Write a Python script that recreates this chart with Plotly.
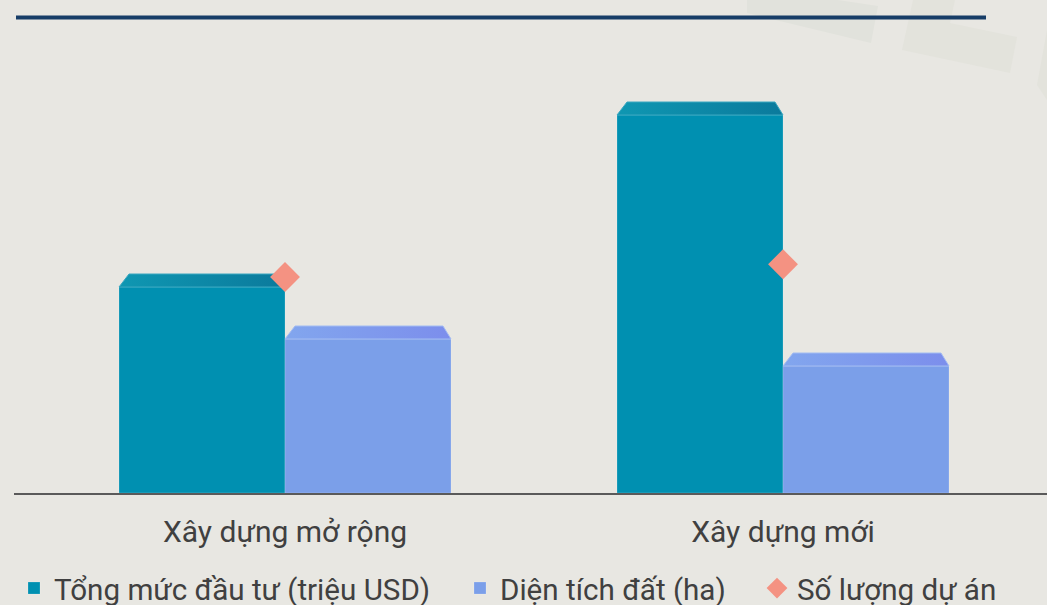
import plotly.graph_objects as go

# ---- data ----
categories = ["Xây dựng mở rộng", "Xây dựng mới"]
tong_muc_dau_tu = [1030, 1890]      # triệu USD
dien_tich_dat = [770, 635]          # ha
so_luong_du_an = [34, 36]           # dự án
series_names = ["Tổng mức đầu tư (triệu USD)", "Diện tích đất (ha)", "Số lượng dự án"]

# ---- style / layout constants ----
W, H = 1047, 605
ML, MR, MT, MB = 14, 0, 40, 112
XR = [-0.5442, 1.5301]
YR = [0, 2265]
Y2R = [0, 71.3]
BAR_W = 1 / 3
BG = "#e8e7e2"
TEAL = "#0090b1"
BLUE = "#7b9fe9"
SALMON = "#f49282"
TXT = "#404040"
FONT = "Roboto"
LEGEND_W = [401, 252, None]

plot_w = W - ML - MR
plot_h = H - MT - MB
px_x = plot_w / (XR[1] - XR[0])
px_y = plot_h / (YR[1] - YR[0])

x_idx = list(range(len(categories)))

fig = go.Figure()

bar_specs = [
    (series_names[0], tong_muc_dau_tu, TEAL, -BAR_W, ["#0f97b2", "#0b7a9c"], "#3aa7c0", LEGEND_W[0]),
    (series_names[1], dien_tich_dat, BLUE, 0.0, ["#82a6ee", "#7c8eec"], "#a3bcf2", LEGEND_W[1]),
]

for name, vals, col, off, grad, edge, lw in bar_specs:
    fig.add_trace(go.Bar(
        x=x_idx, y=vals, name=name, width=BAR_W, offset=off,
        marker=dict(color=col, line=dict(color="rgba(255,255,255,0.18)", width=1)),
        hoverinfo="skip", legendwidth=lw,
    ))

# 3D caps on top of each bar
dxl, dxr = 10 / px_x, 8 / px_x
dy = 13 / px_y
for name, vals, col, off, grad, edge, lw in bar_specs:
    for i, v in zip(x_idx, vals):
        xl = i + off
        xr = xl + BAR_W
        fig.add_trace(go.Scatter(
            x=[xl, xl + dxl, xr - dxr, xr, xl],
            y=[v, v + dy, v + dy, v, v],
            mode="lines", fill="toself",
            fillgradient=dict(type="horizontal", colorscale=[[0, grad[0]], [1, grad[1]]]),
            line=dict(color=edge, width=1),
            showlegend=False, hoverinfo="skip",
        ))

fig.add_trace(go.Scatter(
    x=x_idx, y=so_luong_du_an, name=series_names[2], yaxis="y2",
    mode="markers",
    marker=dict(symbol="diamond", size=23, color=SALMON),
    hoverinfo="skip",
))


def to_plot_paper_x(px):
    return (px - ML) / plot_w


def to_plot_paper_y(py):
    return (H - MB - py) / plot_h


# faint decorative panels (pixel outlines) and navy rule at top
poly_px = [
    [(747, 0), (838, 0), (878, 6), (871, 43), (747, 13)],
    [(913, 0), (955, 0), (950, 23), (1017, 37), (1010, 73), (902, 50)],
    [(1047, 30), (1047, 100), (1037, 85)],
]
poly_cols = ["#e1e2dc", "#e3e3dc", "#e3e3dc"]
shapes = []
for pts, c in zip(poly_px, poly_cols):
    path = "M " + " L ".join(f"{to_plot_paper_x(px):.4f} {to_plot_paper_y(py):.4f}" for px, py in pts) + " Z"
    shapes.append(dict(type="path", xref="paper", yref="paper", layer="below",
                       path=path, fillcolor=c, line=dict(width=0)))
shapes.append(dict(type="line", xref="paper", yref="paper",
                   x0=to_plot_paper_x(16), x1=to_plot_paper_x(986),
                   y0=to_plot_paper_y(17.5), y1=to_plot_paper_y(17.5),
                   line=dict(color="#173d67", width=4)))

fig.update_layout(
    width=W, height=H,
    margin=dict(l=ML, r=MR, t=MT, b=MB, pad=0, autoexpand=False),
    paper_bgcolor=BG, plot_bgcolor=BG,
    font=dict(family=FONT, color=TXT),
    barmode="overlay",
    xaxis=dict(range=XR, tickvals=x_idx, ticktext=categories, showgrid=False,
               zeroline=False, showline=True, linecolor="#5a5a5a", linewidth=2,
               ticks="", tickfont=dict(size=30, color=TXT), ticklabelstandoff=11,
               automargin=False),
    yaxis=dict(range=YR, visible=False, showgrid=False),
    yaxis2=dict(range=Y2R, visible=False, overlaying="y", side="right", showgrid=False),
    shapes=shapes,
    showlegend=True,
    legend=dict(orientation="h", x=0, xanchor="left", xref="paper",
                y=-0.153, yanchor="top", yref="paper",
                font=dict(size=29.6, color=TXT), bgcolor="rgba(0,0,0,0)",
                itemsizing="trace"),
)

fig.write_html(
    "out.html",
    config={"displayModeBar": False},
    post_script="document.body.style.margin='0';document.body.style.overflow='hidden';"
                "document.body.style.background='#e8e7e2';",
)
